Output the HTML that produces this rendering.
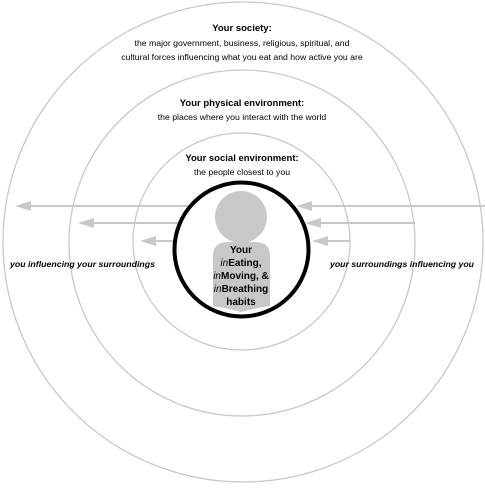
<!DOCTYPE html>
<html><head><style>
body{margin:0;background:#fff}
svg text{font-family:"Liberation Sans",sans-serif;fill:#000}
</style></head><body>
<svg width="485" height="485" viewBox="0 0 485 485" xmlns="http://www.w3.org/2000/svg">
<g fill="none" stroke="#c8c8c8" stroke-width="1.3">
<circle cx="243" cy="242" r="240"/>
<circle cx="242" cy="243" r="173"/>
<circle cx="241.5" cy="241.5" r="108.5"/>
</g>
<g stroke="#c8c8c8" stroke-width="2">
<line x1="485" y1="206" x2="305" y2="206"/>
<line x1="415" y1="223" x2="315" y2="223"/>
<line x1="350" y1="241" x2="322" y2="241"/>
<line x1="190" y1="206" x2="25" y2="206"/>
<line x1="180" y1="223" x2="88" y2="223"/>
<line x1="176" y1="241" x2="150" y2="241"/>
</g>
<g fill="#c8c8c8">
<polygon points="296,206 312,201 312,211"/>
<polygon points="305,223 321,218 321,228"/>
<polygon points="312,241 328,236 328,246"/>
<polygon points="15,206 31,201 31,211"/>
<polygon points="78,223 94,218 94,228"/>
<polygon points="140,241 156,236 156,246"/>
</g>
<circle cx="241.5" cy="249.5" r="67" fill="#fff" stroke="#000" stroke-width="4"/>
<circle cx="241" cy="217" r="26" fill="#c8c8c8"/>
<path d="M228,242 H255 Q270,242 270,256 V306 Q256,308 241,312 Q226,308 213,306 V256 Q213,242 228,242 Z" fill="#c8c8c8"/>
<g text-anchor="middle" font-size="10" font-weight="bold">
<text x="241" y="253">Your</text>
<text x="241" y="266"><tspan font-style="italic" font-weight="normal">in</tspan>Eating,</text>
<text x="241" y="279"><tspan font-style="italic" font-weight="normal">in</tspan>Moving, &amp;</text>
<text x="241" y="292"><tspan font-style="italic" font-weight="normal">in</tspan>Breathing</text>
<text x="241" y="305">habits</text>
</g>
<g text-anchor="middle" font-size="8.7">
<text x="242" y="31" font-weight="bold" font-size="9.5">Your society:</text>
<text x="242" y="46">the major government, business, religious, spiritual, and</text>
<text x="242" y="60">cultural forces influencing what you eat and how active you are</text>
<text x="242" y="106" font-weight="bold" font-size="9.5">Your physical environment:</text>
<text x="242" y="120">the places where you interact with the world</text>
<text x="242" y="161" font-weight="bold" font-size="9.5">Your social environment:</text>
<text x="242" y="175">the people closest to you</text>
</g>
<g font-size="8.3" font-weight="bold" font-style="italic">
<text x="10" y="267" textLength="145" lengthAdjust="spacingAndGlyphs">you influencing your surroundings</text>
<text x="330" y="267" textLength="144" lengthAdjust="spacingAndGlyphs">your surroundings influencing you</text>
</g>
</svg>
</body></html>
